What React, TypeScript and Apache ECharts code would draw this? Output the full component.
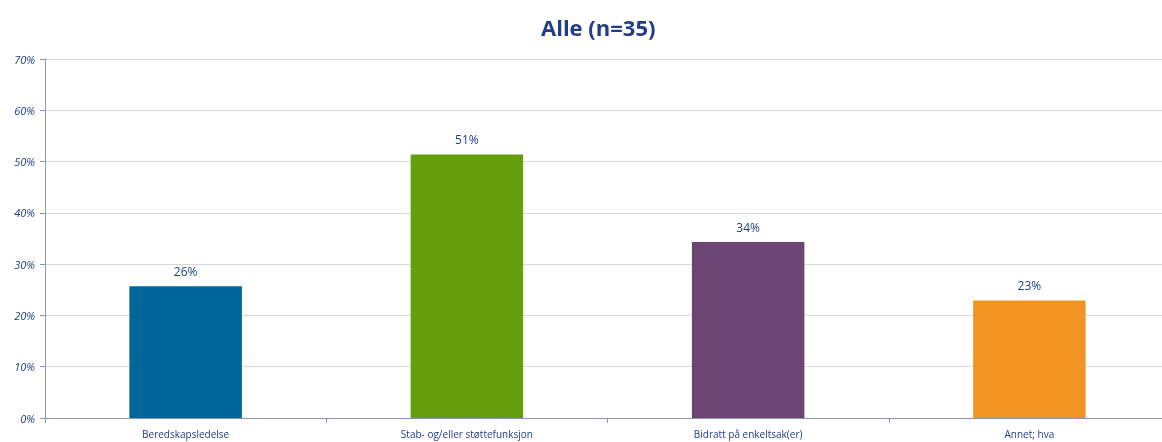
import React, { useEffect, useRef } from "react";
import * as echarts from "echarts";

const categories = ["Beredskapsledelse", "Stab- og/eller støttefunksjon", "Bidratt på enkeltsak(er)", "Annet; hva"];
const values = [25.7, 51.4, 34.3, 22.9];
const colors = ["#006699", "#659F0E", "#6C4673", "#F39322"];
const title = "Alle (n=35)";

export default function App() {
  const ref = useRef<HTMLDivElement>(null);
  useEffect(() => {
    const chart = echarts.init(ref.current!, null, { renderer: "svg" });
    chart.setOption({
      animation: false,
      title: {
        text: title,
        left: 536,
        top: 11,
        textStyle: { fontFamily: "Open Sans", fontWeight: "bold", fontSize: 22, color: "#1F3E85" },
      },
      grid: { left: 45, right: 0, top: 59, bottom: 24 },
      xAxis: {
        type: "category",
        data: categories,
        axisLine: { lineStyle: { color: "#8C94B0" } },
        axisTick: { show: true, length: 5, lineStyle: { color: "#8C94B0" } },
        axisLabel: { fontFamily: "Open Sans", fontSize: 10, color: "#1F3E85", margin: 11 },
      },
      yAxis: {
        type: "value",
        min: 0,
        max: 70,
        interval: 10,
        axisLine: { show: true, lineStyle: { color: "#8C94B0" } },
        axisTick: { show: true, length: 5, lineStyle: { color: "#8C94B0" } },
        splitLine: { lineStyle: { color: "#D9D9D9" } },
        axisLabel: {
          fontFamily: "Open Sans",
          fontStyle: "italic",
          fontSize: 11,
          color: "#1F3E85",
          margin: 10,
          formatter: "{value}%",
        },
      },
      series: [
        {
          type: "bar",
          barWidth: "40%",
          data: values.map((v, i) => ({ value: v, itemStyle: { color: colors[i] } })),
          label: {
            show: true,
            position: "top",
            distance: 9,
            fontFamily: "Open Sans",
            fontSize: 12,
            color: "#1F3E85",
            formatter: (p: any) => Math.round(p.value) + "%",
          },
        },
      ],
    });
    return () => chart.dispose();
  }, []);
  return <div ref={ref} style={{ position: "fixed", left: 0, top: 0, width: 1170, height: 442 }} />;
}
